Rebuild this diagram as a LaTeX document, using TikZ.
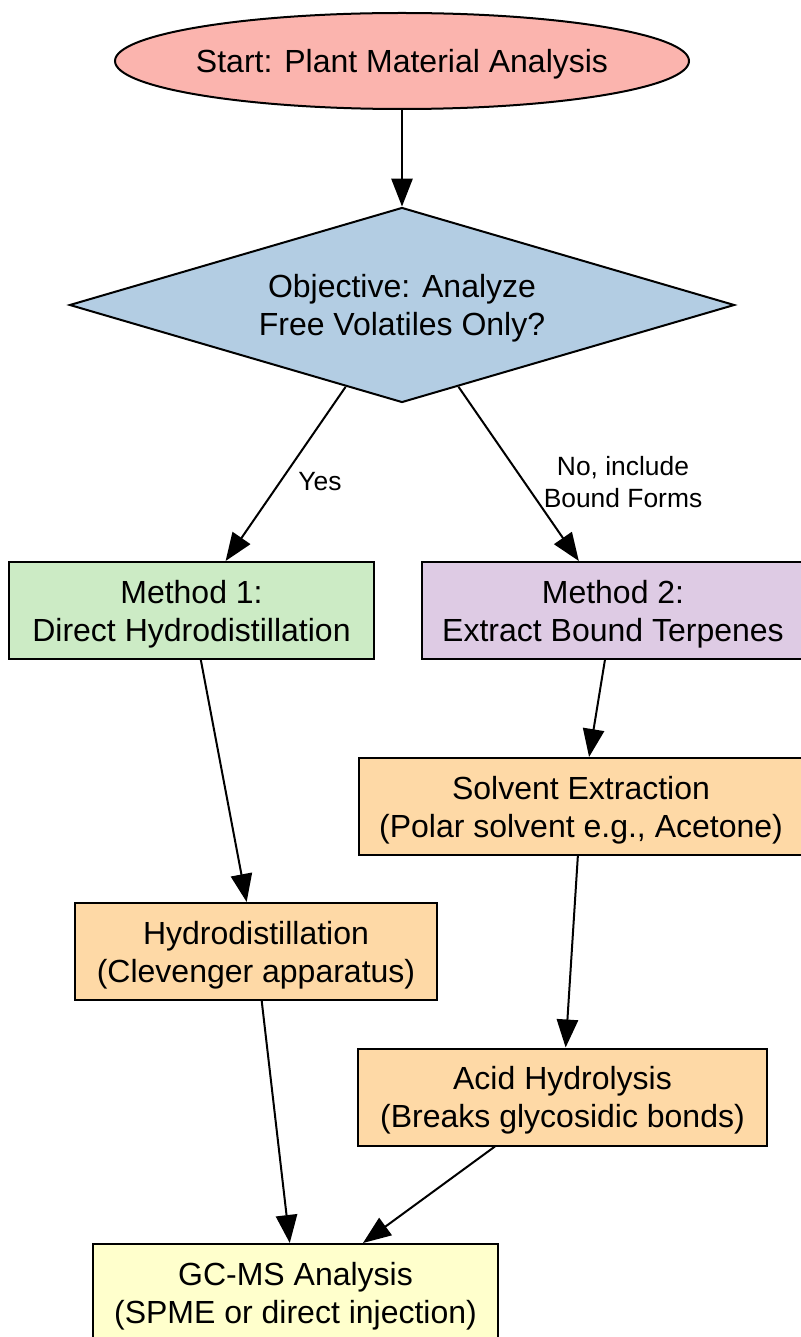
\documentclass[tikz,border=0pt]{standalone}
\usepackage{fontspec}
\setmainfont{Liberation Sans}
\usetikzlibrary{shapes.geometric,arrows.meta}
\definecolor{cstart}{HTML}{FBB4AE}
\definecolor{cdec}{HTML}{B3CDE3}
\definecolor{cm1}{HTML}{CCEBC5}
\definecolor{cm2}{HTML}{DECBE4}
\definecolor{cstep}{HTML}{FED9A6}
\definecolor{cend}{HTML}{FFFFCC}
\tikzset{
  base/.style={draw=black, line width=1.5pt, align=center, inner sep=0pt,
    text depth=0pt, font=\fontsize{24}{28.5}\selectfont},
  boxnode/.style={base, rectangle, minimum height=72.75pt},
  edgelabel/.style={align=center, inner sep=0pt, font=\fontsize{19.8}{24}\selectfont},
  conn/.style={line width=1.5pt, -{Triangle[length=21pt,width=16pt]}},
}
\begin{document}
\begin{tikzpicture}[x=0.75pt,y=-0.75pt]
\path[use as bounding box] (0,0) rectangle (800,1337);
\node[base, ellipse, fill=cstart, inner xsep=-2.4pt, minimum width=430.5pt, minimum height=72pt] (start) at (402,61) {Start: Plant Material Analysis};
\node[base, diamond, fill=cdec, aspect=3.41, minimum width=498.75pt, minimum height=146.25pt] (dec) at (402,305) {Objective: Analyze\\Free Volatiles Only?};
\node[boxnode, fill=cm1, minimum width=273.75pt] (m1) at (191.5,610.5) {Method 1:\\Direct Hydrodistillation};
\node[boxnode, fill=cm2, minimum width=286.5pt] (m2) at (613,610.5) {Method 2:\\Extract Bound Terpenes};
\node[boxnode, fill=cstep, minimum width=333pt] (solv) at (581,806.5) {Solvent Extraction\\(Polar solvent e.g., Acetone)};
\node[boxnode, fill=cstep, minimum width=271.5pt] (hydro) at (256,951.5) {Hydrodistillation\\(Clevenger apparatus)};
\node[boxnode, fill=cstep, minimum width=306.75pt] (acid) at (562.5,1097) {Acid Hydrolysis\\(Breaks glycosidic bonds)};
\node[boxnode, fill=cend, minimum width=303.75pt] (gc) at (295.5,1292.5) {GC-MS Analysis\\(SPME or direct injection)};
\node[edgelabel] (lyes) at (320,482) {Yes};
\node[edgelabel] (lno) at (623,482) {No, include\\Bound Forms};
\draw[conn] (start) -- (dec);
\draw[conn] (dec) -- (m1);
\draw[conn] (dec) -- (m2);
\draw[conn] (m1) -- (hydro);
\draw[conn] (m2) -- (solv);
\draw[conn] (solv) -- (acid);
\draw[conn] (hydro) -- (gc);
\draw[conn] (acid) -- (gc);
\end{tikzpicture}
\end{document}
